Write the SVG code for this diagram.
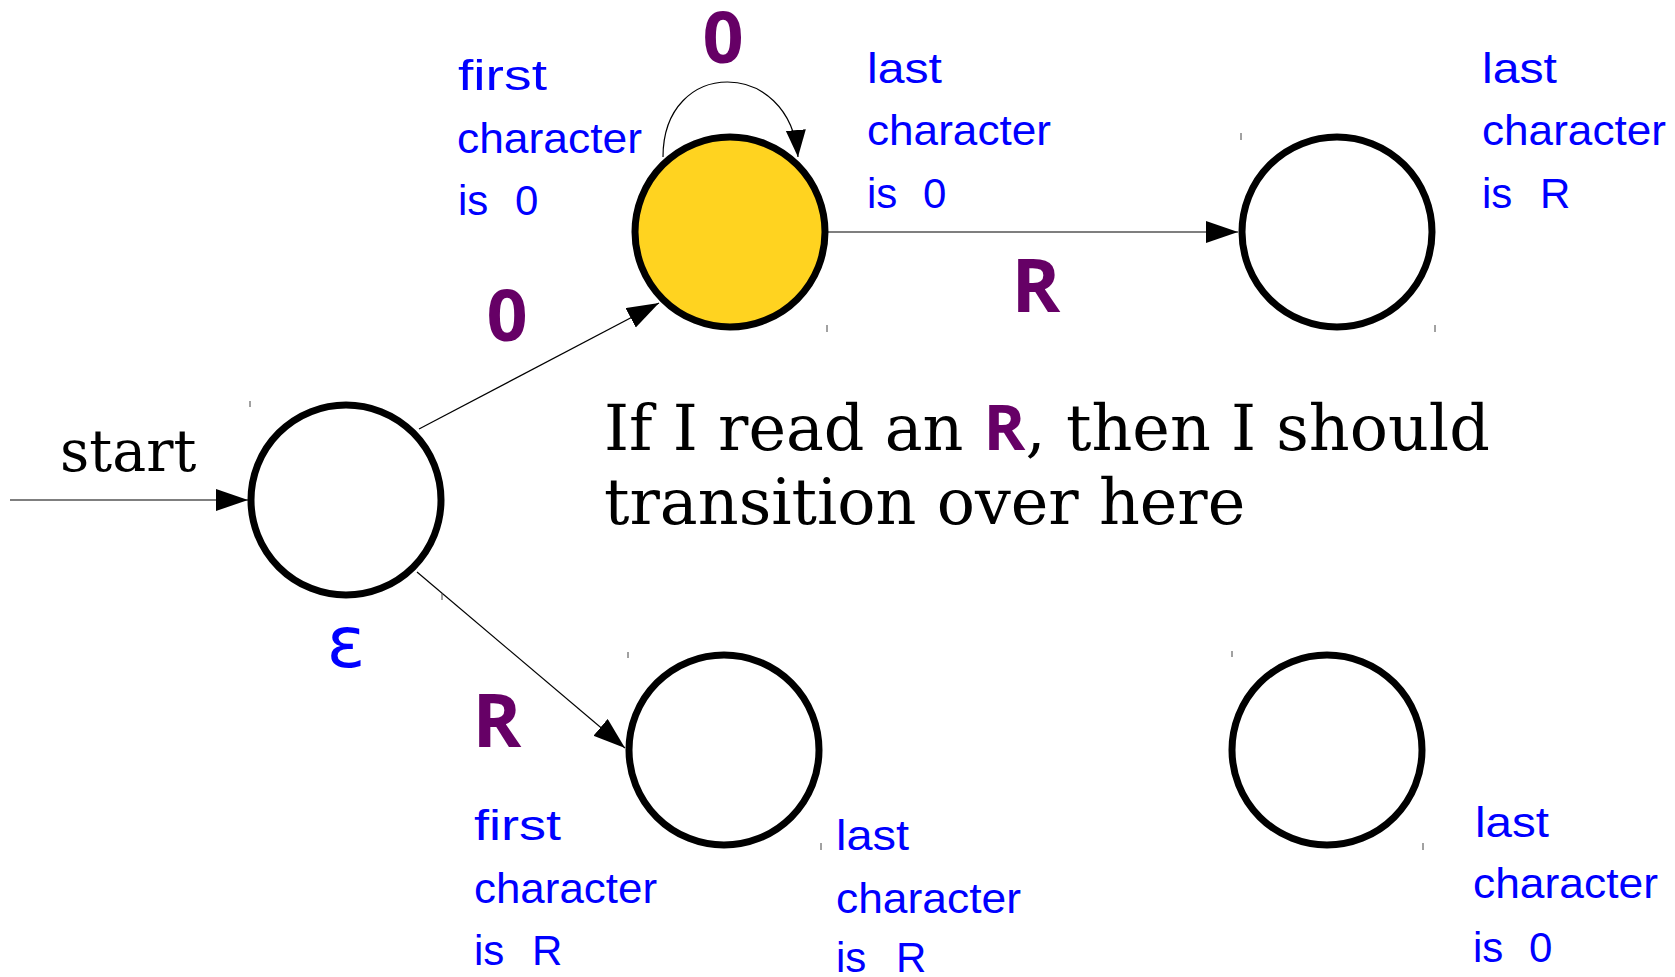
<svg xmlns="http://www.w3.org/2000/svg" width="1675" height="977" viewBox="0 0 1675 977">
<style>
.state{fill:#fff;stroke:#000;stroke-width:7}
.active{fill:#ffd320}
.edge{fill:none;stroke:#000;stroke-width:1.2}
.lbl{font-family:"Open Sans","DejaVu Sans",sans-serif;font-weight:700;fill:#660066;text-anchor:middle}
.note{font-family:"Liberation Sans","DejaVu Sans",sans-serif;font-size:42px;fill:#0000ff}
.serif{font-family:"DejaVu Serif","Liberation Serif",serif;fill:#000}
.tick{stroke:#444;stroke-width:1}
</style>
<defs>
<marker id="arr" markerUnits="userSpaceOnUse" markerWidth="34" markerHeight="24" refX="32" refY="11" orient="auto">
<path d="M0,0 L32,11 L0,22 z" fill="#000"/>
</marker>
<marker id="arrs" markerUnits="userSpaceOnUse" markerWidth="30" markerHeight="22" refX="27" refY="10" orient="auto">
<path d="M0,0 L27,10 L0,20 z" fill="#000"/>
</marker>
</defs>

<g id="connectors">
<line class="edge" x1="10" y1="500" x2="248" y2="500" stroke="#666" marker-end="url(#arr)"/>
<line class="edge" x1="419" y1="429" x2="659" y2="303" marker-end="url(#arr)"/>
<line class="edge" x1="417" y1="572" x2="625" y2="748" marker-end="url(#arr)"/>
<line class="edge" x1="828" y1="232" x2="1238" y2="232" marker-end="url(#arr)"/>
<path class="edge" d="M663,157 C663,57 790,57 798,157" marker-end="url(#arrs)"/>
<text class="lbl" x="507" y="341" font-size="72">0</text>
<text class="lbl" x="723" y="63" font-size="72">0</text>
<text class="lbl" x="1036" y="312" font-size="74">R</text>
<text class="lbl" x="497" y="747" font-size="74">R</text>
</g>

<g id="start-label">
<text class="serif" x="60" y="471" font-size="57">start</text>
</g>

<g id="node-eps">
<circle class="state" cx="346" cy="500" r="95"/>
<line class="tick" x1="250" y1="401" x2="250" y2="407"/>
<line class="tick" x1="442" y1="593" x2="442" y2="600"/>
<text x="346" y="667" font-family="DejaVu Sans,sans-serif" font-size="72" fill="#0000ff" text-anchor="middle">ε</text>
</g>

<g id="node-first0">
<circle class="state active" cx="730" cy="232" r="95"/>
<line class="tick" x1="827" y1="325" x2="827" y2="332"/>
<text class="note" x="458" y="90" textLength="89" lengthAdjust="spacingAndGlyphs">first</text>
<text class="note" x="457" y="153" textLength="185" lengthAdjust="spacingAndGlyphs">character</text>
<text class="note" x="458" y="215">is <tspan x="515">0</tspan></text>
<text class="note" x="867" y="83" textLength="75" lengthAdjust="spacingAndGlyphs">last</text>
<text class="note" x="867" y="145" textLength="184" lengthAdjust="spacingAndGlyphs">character</text>
<text class="note" x="867" y="208">is <tspan x="923">0</tspan></text>
</g>

<g id="node-lastR-top">
<circle class="state" cx="1337" cy="232" r="95"/>
<line class="tick" x1="1241" y1="133" x2="1241" y2="140"/>
<line class="tick" x1="1435" y1="325" x2="1435" y2="332"/>
<text class="note" x="1482" y="83" textLength="75" lengthAdjust="spacingAndGlyphs">last</text>
<text class="note" x="1482" y="145" textLength="184" lengthAdjust="spacingAndGlyphs">character</text>
<text class="note" x="1482" y="208">is <tspan x="1540">R</tspan></text>
</g>

<g id="node-firstR">
<circle class="state" cx="724" cy="750" r="95"/>
<line class="tick" x1="628" y1="652" x2="628" y2="658"/>
<line class="tick" x1="821" y1="843" x2="821" y2="850"/>
<text class="note" x="474" y="840" textLength="87" lengthAdjust="spacingAndGlyphs">first</text>
<text class="note" x="474" y="903" textLength="183" lengthAdjust="spacingAndGlyphs">character</text>
<text class="note" x="474" y="965">is <tspan x="532">R</tspan></text>
<text class="note" x="836" y="850" textLength="73" lengthAdjust="spacingAndGlyphs">last</text>
<text class="note" x="836" y="913" textLength="185" lengthAdjust="spacingAndGlyphs">character</text>
<text class="note" x="836" y="972">is <tspan x="896">R</tspan></text>
</g>

<g id="node-last0">
<circle class="state" cx="1327" cy="750" r="95"/>
<line class="tick" x1="1232" y1="651" x2="1232" y2="657"/>
<line class="tick" x1="1423" y1="843" x2="1423" y2="850"/>
<text class="note" x="1475" y="837" textLength="74" lengthAdjust="spacingAndGlyphs">last</text>
<text class="note" x="1473" y="898" textLength="185" lengthAdjust="spacingAndGlyphs">character</text>
<text class="note" x="1473" y="962">is <tspan x="1529">0</tspan></text>
</g>

<g id="caption">
<text class="serif" x="604" y="450" font-size="63.5">If I read an <tspan font-family="Open Sans,DejaVu Sans,sans-serif" font-weight="700" fill="#660066">R</tspan>, then I should</text>
<text class="serif" x="604" y="524" font-size="63.5">transition over here</text>
</g>
</svg>
